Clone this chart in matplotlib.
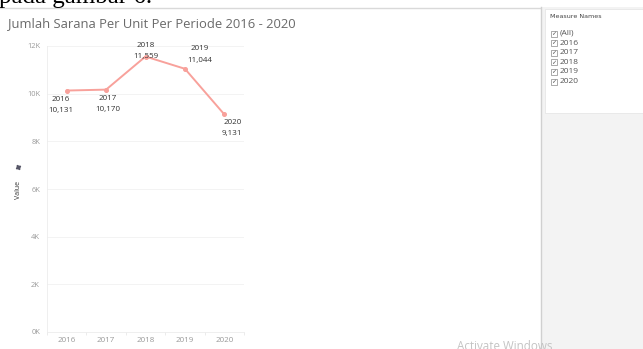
import matplotlib.pyplot as plt
from matplotlib.patches import Rectangle
from matplotlib.lines import Line2D

# data
years = ['2016', '2017', '2018', '2019', '2020']
values = [10131, 10170, 11559, 11044, 9131]
yticks = [0, 2000, 4000, 6000, 8000, 10000, 12000]
ytick_labels = ['0K', '2K', '4K', '6K', '8K', '10K', '12K']
filter_items = ['(All)', '2016', '2017', '2018', '2019', '2020']

W, H = 643, 349
plt.rcParams['font.family'] = ['Open Sans', 'DejaVu Sans']

fig = plt.figure(figsize=(W / 100, H / 100), dpi=100)


def fx(x):
    return x / W


def fy(y):
    return 1 - y / H


# cropped document text at the very top
fig.text(fx(-1), fy(3), 'pada gambar 6.', family='Liberation Serif',
         fontsize=18, color='black', va='baseline', ha='left')
fig.add_artist(Line2D([0, fx(540)], [fy(7.5), fy(7.5)], color='#d9d9d9', lw=1))

# right filter panel
fig.add_artist(Rectangle((fx(541), 0), fx(W - 541), fy(6.5), color='#f3f3f3', lw=0))
fig.add_artist(Line2D([fx(540.5), fx(540.5)], [0, fy(6.5)], color='#d0d0d0', lw=1))
fig.add_artist(Rectangle((fx(545), fy(113)), fx(W - 545), (113 - 9) / H,
                         facecolor='white', edgecolor='#e6e6e6', lw=0.6))
fig.text(fx(550), fy(17), 'Measure Names', fontsize=4.6, color='#444', va='center',
         family=['Liberation Sans Narrow', 'DejaVu Sans'])
for i, item in enumerate(filter_items):
    yy = 33.5 + i * 9.6
    fig.add_artist(Rectangle((fx(551), fy(yy + 3)), 6 / W, 6 / H,
                             facecolor='white', edgecolor='#888', lw=0.5))
    fig.text(fx(554), fy(yy), '\u2713', fontsize=4.5, color='#555',
             ha='center', va='center', family='DejaVu Sans')
    fig.text(fx(559.5), fy(yy), item, fontsize=6, color='#555', va='center')

# title
fig.text(fx(8), fy(24), 'Jumlah Sarana Per Unit Per Periode 2016 - 2020',
         fontsize=9.4, color='#6a6a6a', va='center', ha='left')

# y label with pin
fig.text(fx(18), fy(190), 'Value', fontsize=5, color='#333', rotation=90,
         ha='center', va='center')
fig.add_artist(Line2D([fx(18)], [fy(167)], marker=(4, 1, 30), markersize=3.5,
                      color='#556', lw=0))

# main axes
ax = fig.add_axes([fx(47), fy(332), fx(244 - 47), (332 - 46) / H])
x = range(len(years))
ax.plot(x, values, color='#f8a19b', lw=1.4, marker='o', markersize=2.6,
        solid_capstyle='round', zorder=3)
ax.set_xlim(-0.5, len(years) - 0.5)
ax.set_ylim(0, 12000)
ax.set_yticks(yticks)
ax.set_yticklabels(ytick_labels)
ax.set_xticks(list(x))
ax.set_xticklabels(years)
ax.set_xticks([i - 0.5 for i in range(len(years) + 1)], minor=True)
ax.tick_params(axis='y', length=0, pad=5, labelsize=5.4, labelcolor='#999')
ax.tick_params(axis='x', which='major', length=0, pad=3.5, labelsize=5.8, labelcolor='#999')
ax.tick_params(axis='x', which='minor', length=2.5, color='#e8e8e8', width=0.6)
ax.grid(axis='y', color='#f1f1f1', lw=0.6)
for s in ['top', 'right']:
    ax.spines[s].set_visible(False)
ax.spines['left'].set_color('#ececec')
ax.spines['bottom'].set_color('#ececec')
ax.spines['left'].set_linewidth(0.6)
ax.spines['bottom'].set_linewidth(0.6)

# label placement (pixels): dx, year dy, value dy
label_dx = [-6, 2, 0, 15, 8]
label_dy_year = [-9, -9, 11, 20, -8]
label_dy_val = [-20, -20, 0, 8, -19]
for i, (yr, v) in enumerate(zip(years, values)):
    ax.annotate(yr, (i, v), xytext=(label_dx[i], label_dy_year[i]),
                textcoords='offset pixels', ha='center', va='center',
                fontsize=5.8, color='#333', annotation_clip=False)
    ax.annotate(f'{v:,}', (i, v), xytext=(label_dx[i], label_dy_val[i]),
                textcoords='offset pixels', ha='center', va='center',
                fontsize=5.8, color='#333', annotation_clip=False)

# watermark
fig.text(fx(457), fy(340), 'Activate Windows', fontsize=8.4, color='#c4c4c4',
         va='top', ha='left')

fig.savefig('out.png', dpi=100)
